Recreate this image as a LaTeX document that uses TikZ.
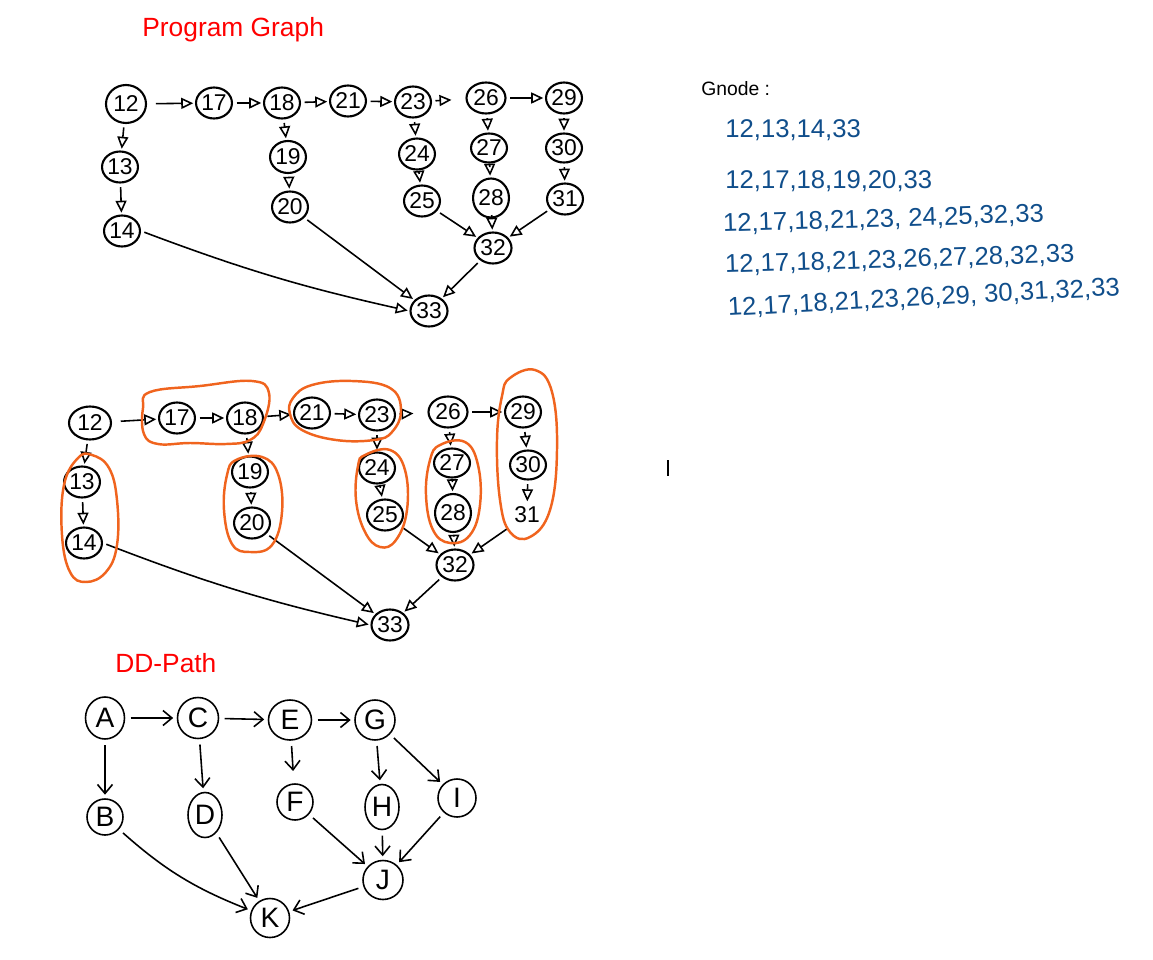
\documentclass[tikz,border=0pt]{standalone}
\usepackage{fontspec}
\setmainfont{Liberation Sans}
\usetikzlibrary{arrows.meta,shapes.geometric}
\definecolor{gblue}{RGB}{16,78,139}
\definecolor{ored}{RGB}{240,100,30}
\definecolor{tred}{RGB}{255,0,0}
\begin{document}
\begin{tikzpicture}[x=0.02cm,y=-0.02cm,
 pn/.style={draw,ellipse,line width=1.2pt,minimum width=0.68cm,minimum height=0.62cm,inner sep=0pt,font=\fontsize{13}{13}\selectfont},
 pt/.style={-{Triangle[open,length=0.24cm,width=0.22cm]},line width=0.9pt,shorten >=1pt,shorten <=2pt},
 dn/.style={draw,ellipse,line width=0.9pt,minimum width=0.72cm,minimum height=0.72cm,inner sep=0pt,font=\fontsize{16}{16}\selectfont},
 da/.style={-{Straight Barb[length=0.18cm,width=0.3cm]},line width=0.9pt,shorten >=2pt,shorten <=3pt},
 oloop/.style={draw=ored,line width=1.4pt},
 ttl/.style={text=tred,font=\fontsize{15}{15}\selectfont,anchor=west,inner sep=0pt},
 gline/.style={text=gblue,font=\fontsize{14.6}{15}\selectfont,anchor=base west,inner sep=0pt},
]
\useasboundingbox (0,0) rectangle (1153,960);

% ---------- Program Graph ----------
\node[ttl] (t1) at (142,30) {Program Graph};
\node[pn,minimum width=0.8cm,minimum height=0.76cm] (a12) at (126,104) {12};
\node[pn] (a17) at (214,103) {17};
\node[pn] (a18) at (282,103) {18};
\node[pn] (a21) at (348,101) {21};
\node[pn] (a23) at (413,102) {23};
\node[pn,minimum width=0.78cm] (a26) at (486,98) {26};
\node[pn] (a29) at (564,98) {29};
\node[pn] (a13) at (120,167) {13};
\node[pn] (a14) at (122,231) {14};
\node[pn,minimum width=0.58cm,minimum height=0.64cm] (a19) at (288,157) {19};
\node[pn] (a20) at (290,207) {20};
\node[pn] (a24) at (417,154) {24};
\node[pn] (a25) at (422,201) {25};
\node[pn,minimum width=0.58cm,minimum height=0.58cm] (a27) at (489,148) {27};
\node[pn,minimum width=0.62cm,minimum height=0.78cm] (a28) at (491,198) {28};
\node[pn,minimum width=0.58cm,minimum height=0.58cm] (a30) at (564,148) {30};
\node[pn] (a31) at (565,199) {31};
\node[pn,minimum width=0.74cm] (a32) at (493,248) {32};
\node[pn,minimum width=0.74cm] (a33) at (429,311) {33};

\draw[pt,shorten <=5pt] (a12) -- (a17);
\draw[pt] (a17) -- (a18);
\draw[pt] (a18) -- (a21);
\draw[pt] (a21) -- (a23);
\draw[pt,shorten >=8pt] (a23) -- (a26);
\draw[pt] (a26) -- (a29);
\draw[pt] (a12) -- (a13);
\draw[pt] (a13) -- (a14);
\draw[pt] (a18) -- (a19);
\draw[pt] (a19) -- (a20);
\draw[pt] (a23) -- (a24);
\draw[pt] (a24) -- (a25);
\draw[pt] (a26) -- (a27);
\draw[pt] (a27) -- (a28);
\draw[pt] (a29) -- (a30);
\draw[pt] (a30) -- (a31);
\draw[pt] (a25) -- (a32);
\draw[pt] (a28) -- (a32);
\draw[pt] (a31) -- (a32);
\draw[pt] (a32) -- (a33);
\draw[pt] (a20) -- (a33);
\draw[pt] (a14.east) to[bend right=4] (a33.west);

% ---------- Gnode paths ----------
\node[anchor=base west,inner sep=0pt,font=\fontsize{11}{11}\selectfont] (gn) at (701,95) {Gnode :};
\node[gline] (g1) at (725,137) {12,13,14,33};
\node[gline] (g2) at (725,188) {12,17,18,19,20,33};
\node[gline,rotate=1.8] (g3) at (723,232) {12,17,18,21,23, 24,25,32,33};
\node[gline,rotate=1.8] (g4) at (725,273) {12,17,18,21,23,26,27,28,32,33};
\node[gline,rotate=3] (g5) at (728,316) {12,17,18,21,23,26,29, 30,31,32,33};

\draw[line width=0.6pt] (668,460) -- (668,476);

% ---------- Program Graph with DD-paths marked ----------
\node[pn,minimum width=0.84cm,minimum height=0.66cm] (b12) at (90,423) {12};
\node[pn] (b17) at (177,418) {17};
\node[pn] (b18) at (245,418) {18};
\node[pn] (b21) at (312,413) {21};
\node[pn] (b23) at (377,415) {23};
\node[pn,minimum width=0.78cm] (b26) at (448,412) {26};
\node[pn] (b29) at (523,412) {29};
\node[pn] (b13) at (82,482) {13};
\node[pn] (b14) at (84,543) {14};
\node[pn,minimum width=0.58cm] (b19) at (250,472) {19};
\node[pn] (b20) at (252,523) {20};
\node[pn] (b24) at (377,468) {24};
\node[pn] (b25) at (385,515) {25};
\node[pn,minimum width=0.58cm,minimum height=0.58cm] (b27) at (452,463) {27};
\node[pn,minimum width=0.62cm,minimum height=0.76cm] (b28) at (453,513) {28};
\node[pn,minimum width=0.58cm,minimum height=0.58cm] (b30) at (528,465) {30};
\node[font=\fontsize{13}{13}\selectfont,inner sep=2pt] (b31) at (527,515) {31};
\node[pn,minimum width=0.74cm] (b32) at (455,565) {32};
\node[pn,minimum width=0.74cm] (b33) at (390,625) {33};

\draw[pt,shorten <=5pt] (b12) -- (b17);
\draw[pt] (b17) -- (b18);
\draw[pt] (b18) -- (b21);
\draw[pt] (b21) -- (b23);
\draw[pt,shorten >=8pt] (b23) -- (b26);
\draw[pt] (b26) -- (b29);
\draw[pt] (b12) -- (b13);
\draw[pt] (b13) -- (b14);
\draw[pt] (b18) -- (b19);
\draw[pt] (b19) -- (b20);
\draw[pt] (b23) -- (b24);
\draw[pt] (b24) -- (b25);
\draw[pt] (b26) -- (b27);
\draw[pt] (b27) -- (b28);
\draw[pt] (b29) -- (b30);
\draw[pt] (b30) -- (b31);
\draw[pt] (b25) -- (b32);
\draw[pt] (b28) -- (b32);
\draw[pt] (b31) -- (b32);
\draw[pt] (b32) -- (b33);
\draw[pt] (b20) -- (b33);
\draw[pt] (b14.east) to[bend right=4] (b33.west);

% orange DD-path outlines
\draw[oloop] plot[smooth cycle,tension=0.7] coordinates {(78,458) (64,485) (62,535) (70,572) (86,582) (106,572) (117,545) (117,500) (109,468) (92,455)};
\draw[oloop] plot[smooth cycle,tension=0.7] coordinates {(150,392) (200,386) (252,381) (269,393) (263,424) (250,440) (226,444) (190,443) (158,444) (144,434) (143,408)};
\draw[oloop] plot[smooth cycle,tension=0.7] coordinates {(293,398) (312,385) (352,381) (390,388) (401,410) (392,432) (374,440) (336,440) (302,430) (290,414)};
\draw[oloop] plot[smooth cycle,tension=0.7] coordinates {(236,460) (262,457) (278,474) (282,512) (272,545) (250,552) (232,544) (224,510) (227,475)};
\draw[oloop] plot[smooth cycle,tension=0.7] coordinates {(365,455) (390,450) (405,470) (407,510) (396,540) (380,547) (365,532) (356,500) (358,466)};
\draw[oloop] plot[smooth cycle,tension=0.7] coordinates {(440,445) (465,442) (478,465) (480,505) (470,535) (450,543) (433,530) (426,495) (430,460)};
\draw[oloop] plot[smooth cycle,tension=0.7] coordinates {(510,378) (535,370) (552,392) (557,450) (550,510) (530,537) (510,532) (500,500) (497,440) (502,396)};

% ---------- DD-Path ----------
\node[ttl] (t2) at (115,663) {DD-Path};
\node[dn,minimum width=0.78cm,minimum height=0.84cm] (A) at (105,718) {A};
\node[dn,minimum width=0.82cm,minimum height=0.82cm] (C) at (198,718) {C};
\node[dn,minimum width=0.86cm,minimum height=0.8cm] (E) at (290,720) {E};
\node[dn,minimum width=0.8cm,minimum height=0.8cm] (G) at (375,720) {G};
\node[dn] (B) at (105,817) {B};
\node[dn,minimum width=0.68cm,minimum height=0.9cm] (D) at (205,815) {D};
\node[dn] (F) at (295,802) {F};
\node[dn,minimum width=0.68cm,minimum height=0.9cm] (H) at (382,807) {H};
\node[dn,minimum width=0.76cm,minimum height=0.76cm] (I) at (457,798) {I};
\node[dn,minimum width=0.8cm,minimum height=0.78cm] (J) at (383,880) {J};
\node[dn,minimum width=0.78cm,minimum height=0.78cm] (K) at (270,918) {K};

\draw[da] (A) -- (C);
\draw[da] (C) -- (E);
\draw[da] (E) -- (G);
\draw[da] (A) -- (B);
\draw[da] (C) -- (D);
\draw[da,shorten >=7pt] (E) -- (F);
\draw[da] (G) -- (H);
\draw[da] (G) -- (I);
\draw[da] (B) to[bend right=10] (K);
\draw[da] (D) -- (K);
\draw[da] (F) -- (J);
\draw[da] (H) -- (J);
\draw[da] (I) -- (J);
\draw[da] (J) -- (K);
\end{tikzpicture}
\end{document}
